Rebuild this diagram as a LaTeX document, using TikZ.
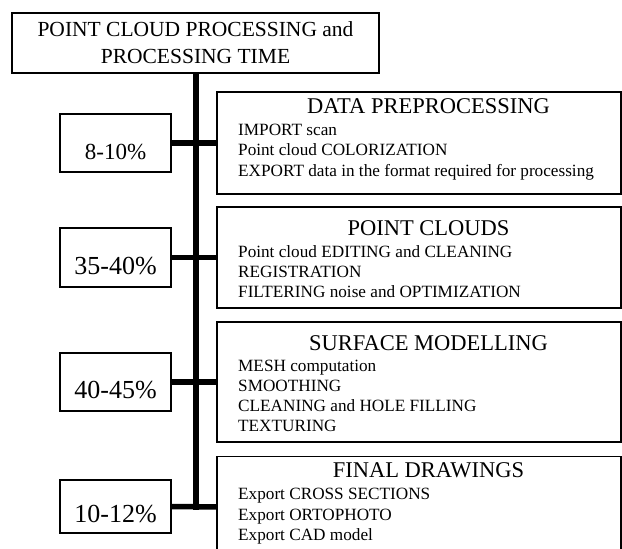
\documentclass[tikz,border=0pt]{standalone}
\usepackage{fontspec}
\setmainfont{Liberation Serif}
\begin{document}
\begin{tikzpicture}[x=1pt,y=-1pt,
  frame/.style={draw, line width=1.2pt, inner sep=0pt, outer sep=0pt},
  pctbox/.style={frame, minimum width=111pt},
  rbox/.style={frame, anchor=north west, minimum width=404pt},
  bar/.style={line width=5.5pt},
  toptxt/.style={anchor=base, inner sep=0pt, font=\fontsize{21.5}{26}\selectfont},
  ttl/.style={anchor=base, inner sep=0pt, font=\fontsize{22.5}{26}\selectfont},
  itm/.style={anchor=base west, inner sep=0pt, font=\fontsize{17.2}{20}\selectfont},
  pct/.style={anchor=base, inner sep=0pt, font=\fontsize{26}{30}\selectfont}]
\useasboundingbox (0,0) rectangle (622,549);

% top box
\node[frame, line width=1.5pt, minimum width=367pt, minimum height=60pt] (top) at (195.5,43) {};
\node[toptxt] (top1) at (195.5,36.8) {POINT CLOUD PROCESSING and};
\node[toptxt] (top2) at (195.5,63.5) {PROCESSING TIME};

% right boxes
\node[rbox, minimum height=102pt] (b1) at (217,92) {};
\node[rbox, minimum height=101pt] (b2) at (217,207) {};
\node[rbox, minimum height=120pt] (b3) at (217,322) {};
\node[rbox, minimum height=101pt] (b4) at (217,456.5) {};

% percentage boxes
\node[pctbox, minimum height=58pt] (p1) at (115.5,143) {};
\node[pctbox, minimum height=59pt] (p2) at (115.5,257.5) {};
\node[pctbox, minimum height=58pt] (p3) at (115.5,382) {};
\node[pctbox, minimum height=53pt] (p4) at (115.5,506.5) {};

\node[pct, font=\fontsize{23}{27}\selectfont] (p1t) at (115.5,159.3) {8-10\%};
\node[pct] (p2t) at (115.5,274) {35-40\%};
\node[pct] (p3t) at (115.5,398) {40-45\%};
\node[pct] (p4t) at (115.5,522.7) {10-12\%};

% connectors
\coordinate (vend) at (196,509.5);
\draw[bar] (top.south -| vend) -- (vend);
\draw[bar] (p1.east) -- (b1.west);
\draw[bar] (p2.east) -- (b2.west);
\draw[bar] (p3.east) -- (b3.west);
\draw[bar] (p4.east) -- (b4.west);

% box 1
\node[ttl] (t1) at (428.5,113) {DATA PREPROCESSING};
\node[itm] (i11) at (238,135) {IMPORT scan};
\node[itm] (i12) at (238,155.5) {Point cloud COLORIZATION};
\node[itm] (i13) at (238,176) {EXPORT data in the format required for processing};

% box 2
\node[ttl] (t2) at (428.5,235) {POINT CLOUDS};
\node[itm] (i21) at (238,257) {Point cloud EDITING and CLEANING};
\node[itm] (i22) at (238,277) {REGISTRATION};
\node[itm] (i23) at (238,297) {FILTERING noise and OPTIMIZATION};

% box 3
\node[ttl] (t3) at (428.5,350) {SURFACE MODELLING};
\node[itm] (i31) at (238,371) {MESH computation};
\node[itm] (i32) at (238,391) {SMOOTHING};
\node[itm] (i33) at (238,411) {CLEANING and HOLE FILLING};
\node[itm] (i34) at (238,431.5) {TEXTURING};

% box 4
\node[ttl] (t4) at (428.5,477) {FINAL DRAWINGS};
\node[itm] (i41) at (238,499) {Export CROSS SECTIONS};
\node[itm] (i42) at (238,520) {Export ORTOPHOTO};
\node[itm] (i43) at (238,540) {Export CAD model};
\end{tikzpicture}
\end{document}
